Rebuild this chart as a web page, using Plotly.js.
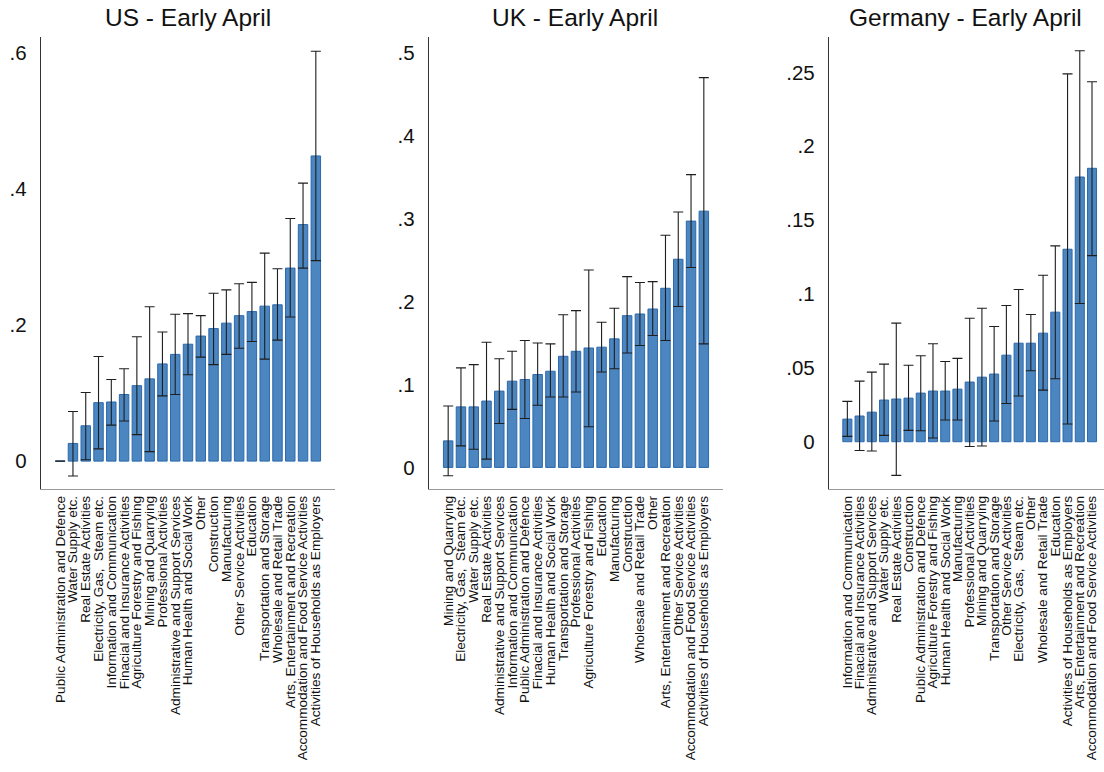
<!DOCTYPE html>
<html>
<head>
<meta charset="utf-8">
<script src="https://cdn.plot.ly/plotly-3.0.1.min.js"></script>
<style>
  html, body { margin: 0; padding: 0; background: #fff; }
  #chart { width: 1104px; height: 772px; }
</style>
</head>
<body>
<div id="chart"></div>
<script>
// --- US - Early April
const usSectors = [
  'Public Administration and Defence', 'Water Supply etc.', 'Real Estate Activities',
  'Electricity, Gas,  Steam etc.', 'Information and Communication', 'Finacial and Insurance Activities',
  'Agriculture Forestry and Fishing', 'Mining and Quarrying', 'Professional Activities',
  'Administrative and Support Services', 'Human Health and Social Work', 'Other',
  'Construction', 'Manufacturing', 'Other Service Activities', 'Education',
  'Transportation and Storage', 'Wholesale and Retail Trade', 'Arts, Entertainment and Recreation',
  'Accommodation and Food Service Activities', 'Activities of Households as Employers'
];
const usMean = [0, 0.026, 0.052, 0.086, 0.087, 0.098, 0.111, 0.121, 0.143, 0.157, 0.172,
  0.184, 0.195, 0.203, 0.214, 0.220, 0.228, 0.230, 0.284, 0.348, 0.449];
const usLow = [0, -0.022, 0.002, 0.018, 0.053, 0.059, 0.039, 0.014, 0.096, 0.098, 0.127,
  0.153, 0.142, 0.157, 0.166, 0.176, 0.150, 0.178, 0.212, 0.284, 0.295];
const usHigh = [0, 0.073, 0.101, 0.154, 0.120, 0.136, 0.183, 0.227, 0.190, 0.216, 0.217,
  0.214, 0.247, 0.252, 0.261, 0.263, 0.306, 0.283, 0.357, 0.409, 0.603];
const usTickVals = [0, 0.2, 0.4, 0.6];
const usTickText = ['0', '.2', '.4', '.6'];

// --- UK - Early April
const ukSectors = [
  'Mining and Quarrying', 'Electricity, Gas,  Steam etc.', 'Water Supply etc.', 'Real Estate Activities',
  'Administrative and Support Services', 'Information and Communication', 'Public Administration and Defence',
  'Finacial and Insurance Activities', 'Human Health and Social Work', 'Transportation and Storage',
  'Professional Activities', 'Agriculture Forestry and Fishing', 'Education', 'Manufacturing',
  'Construction', 'Wholesale and Retail Trade', 'Other', 'Arts, Entertainment and Recreation',
  'Other Service Activities', 'Accommodation and Food Service Activities', 'Activities of Households as Employers'
];
const ukMean = [0.032, 0.073, 0.073, 0.080, 0.092, 0.104, 0.106, 0.112, 0.116, 0.134, 0.140,
  0.144, 0.145, 0.155, 0.183, 0.185, 0.191, 0.216, 0.251, 0.297, 0.309];
const ukLow = [-0.010, 0.026, 0.022, 0.010, 0.053, 0.070, 0.059, 0.075, 0.085, 0.085, 0.091,
  0.049, 0.115, 0.119, 0.138, 0.147, 0.159, 0.153, 0.194, 0.241, 0.149];
const ukHigh = [0.074, 0.120, 0.124, 0.151, 0.131, 0.140, 0.153, 0.150, 0.149, 0.184, 0.189,
  0.238, 0.175, 0.192, 0.230, 0.223, 0.224, 0.280, 0.308, 0.353, 0.470];
const ukTickVals = [0, 0.1, 0.2, 0.3, 0.4, 0.5];
const ukTickText = ['0', '.1', '.2', '.3', '.4', '.5'];

// --- Germany - Early April
const deSectors = [
  'Information and Communication', 'Finacial and Insurance Activities', 'Administrative and Support Services',
  'Water Supply etc.', 'Real Estate Activities', 'Construction', 'Public Administration and Defence',
  'Agriculture Forestry and Fishing', 'Human Health and Social Work', 'Manufacturing',
  'Professional Activities', 'Mining and Quarrying', 'Transportation and Storage',
  'Other Service Activities', 'Electricity, Gas,  Steam etc.', 'Other', 'Wholesale and Retail Trade',
  'Education', 'Activities of Households as Employers', 'Arts, Entertainment and Recreation',
  'Accommodation and Food Service Activities'
];
const deMean = [0.0153, 0.0174, 0.0200, 0.0282, 0.0289, 0.0295, 0.0329, 0.0343, 0.0343, 0.0356,
  0.0404, 0.0437, 0.0458, 0.0586, 0.0667, 0.0667, 0.0735, 0.0877, 0.1303, 0.1792, 0.1851];
const deLow = [0.0036, -0.0059, -0.0063, 0.0043, -0.0228, 0.0077, 0.0074, 0.0025, 0.0147, 0.0147,
  -0.0032, -0.0029, 0.0140, 0.0259, 0.0309, 0.0480, 0.0349, 0.0426, 0.0120, 0.0936, 0.1260];
const deHigh = [0.0273, 0.0410, 0.0471, 0.0525, 0.0803, 0.0518, 0.0582, 0.0663, 0.0543, 0.0564,
  0.0836, 0.0904, 0.0780, 0.0922, 0.1030, 0.0861, 0.1127, 0.1326, 0.2490, 0.2647, 0.2437];
const deTickVals = [0, 0.05, 0.1, 0.15, 0.2, 0.25];
const deTickText = ['0', '.05', '.1', '.15', '.2', '.25'];

const BAR = '#4b86c0', BAR_LINE = '#2c68ac', ERR = '#1e1e1e';
const FONT = 'Liberation Sans, Arial, Helvetica, sans-serif';

function barTrace(cats, mean, low, high, ax) {
  return {
    type: 'bar', x: cats, y: mean, xaxis: 'x' + ax, yaxis: 'y' + ax,
    width: 0.74,
    marker: { color: BAR, line: { color: BAR_LINE, width: 1 } },
    error_y: {
      type: 'data', symmetric: false,
      array: high.map((h, i) => h - mean[i]),
      arrayminus: low.map((l, i) => mean[i] - l),
      color: ERR, thickness: 1.1, width: 5
    },
    hoverinfo: 'x+y', showlegend: false
  };
}

function xAxis(domain, anchor, range) {
  return {
    domain: domain, anchor: anchor, type: 'category', range: range, autorange: false,
    tickmode: 'linear', tick0: 0, dtick: 1,
    showline: true, linecolor: '#9a9a9a', linewidth: 1.5, mirror: false,
    showgrid: false, zeroline: false, ticks: '', tickangle: -90,
    tickfont: { family: FONT, size: 13.6, color: '#111' }
  };
}

function yAxis(anchor, range, vals, text) {
  return {
    domain: [0.3666, 0.9521], anchor: anchor, range: range, autorange: false,
    showline: true, linecolor: '#333', linewidth: 1.2,
    showgrid: false, zeroline: false,
    tickmode: 'array', tickvals: vals, ticktext: text,
    ticks: 'outside', ticklen: 9, tickcolor: 'rgba(0,0,0,0)',
    tickfont: { family: FONT, size: 20.5, color: '#111' }
  };
}

function title(text, x) {
  return { text: text, x: x, y: 1 - 18 / 772, xref: 'paper', yref: 'paper',
    xanchor: 'center', yanchor: 'middle', showarrow: false,
    font: { family: FONT, size: 24.5, color: '#111' } };
}

const data = [
  barTrace(usSectors, usMean, usLow, usHigh, ''),
  barTrace(ukSectors, ukMean, ukLow, ukHigh, '2'),
  barTrace(deSectors, deMean, deLow, deHigh, '3')
];

const layout = {
  width: 1104, height: 772,
  margin: { l: 0, r: 0, t: 0, b: 0 },
  paper_bgcolor: '#fff', plot_bgcolor: '#fff',
  font: { family: FONT, color: '#111' },
  bargap: 0.26,
  xaxis: xAxis([41 / 1104, 335 / 1104], 'y', [-1.5, 21.5]),
  yaxis: yAxis('x', [-0.041, 0.624], usTickVals, usTickText),
  xaxis2: xAxis([429 / 1104, 723 / 1104], 'y2', [-1.5, 21.5]),
  yaxis2: yAxis('x2', [-0.026, 0.519], ukTickVals, ukTickText),
  xaxis3: xAxis([829 / 1104, 1], 'y3', [-1.5, 20.98]),
  yaxis3: yAxis('x3', [-0.032, 0.274], deTickVals, deTickText),
  annotations: [
    title('US - Early April', 188 / 1104),
    title('UK - Early April', 575 / 1104),
    title('Germany - Early April', 965 / 1104)
  ]
};

Plotly.newPlot('chart', data, layout, { staticPlot: true, displayModeBar: false });
</script>
</body>
</html>
